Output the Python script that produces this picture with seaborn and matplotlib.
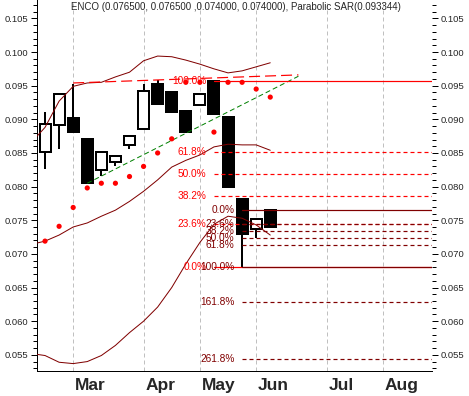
import numpy as np
import pandas as pd
import matplotlib
matplotlib.use("Agg")
import matplotlib.pyplot as plt
from matplotlib.ticker import MultipleLocator, FormatStrFormatter
import seaborn as sns

# weekly bars, x = week number (0 = first bar on the chart)
weeks = list(range(17))
opens = [0.0851, 0.0892, 0.0902, 0.0871, 0.0825, 0.0837, 0.0862, 0.0886, 0.0952,
         0.0941, 0.0912, 0.0921, 0.0957, 0.0903, 0.0782, 0.0737, 0.0765]
highs = [0.0911, 0.0938, 0.0952, 0.0871, 0.0851, 0.0846, 0.0875, 0.0952, 0.0958,
         0.0941, 0.0912, 0.0938, 0.0957, 0.0903, 0.0782, 0.0752, 0.0765]
lows = [0.0826, 0.0856, 0.0881, 0.0805, 0.0816, 0.0831, 0.0856, 0.0886, 0.0921,
        0.0911, 0.0881, 0.0921, 0.0906, 0.0799, 0.0680, 0.0724, 0.0740]
closes = [0.0893, 0.0938, 0.0881, 0.0805, 0.0851, 0.0846, 0.0875, 0.0942, 0.0923,
          0.0911, 0.0881, 0.0938, 0.0908, 0.0800, 0.0730, 0.0752, 0.0740]

# parabolic SAR dots
sar = [0.0719, 0.0741, 0.0769, 0.0798, 0.0805, 0.0805, 0.0815, 0.0830, 0.0850,
       0.0871, 0.0955, 0.0955, 0.0881, 0.0955, 0.0955, 0.0945, 0.0933]

# bollinger bands
band_weeks = list(range(-1, 17))
band_upper = [0.0865, 0.0888, 0.0927, 0.0949, 0.0954, 0.0955, 0.0963, 0.0970, 0.0987,
              0.0994, 0.0993, 0.0988, 0.0982, 0.0975, 0.0969, 0.0972, 0.0978, 0.0984]
band_mid = [0.0714, 0.0719, 0.0728, 0.0740, 0.0746, 0.0756, 0.0765, 0.0778, 0.0793,
            0.0810, 0.0829, 0.0839, 0.0847, 0.0859, 0.0863, 0.0862, 0.0862, 0.0854]
band_low = [0.0552, 0.0549, 0.0539, 0.0537, 0.0540, 0.0549, 0.0564, 0.0583, 0.0600,
            0.0621, 0.0650, 0.0685, 0.0717, 0.0744, 0.0756, 0.0753, 0.0743, 0.0728]

# trend lines (week, price)
green_line = ([3, 18], [0.0805, 0.0964])
red_line = ([2, 18], [0.0954, 0.0966])

# fibonacci retracements
fib1_start = 12
fib1_labels = ["100.0%", "61.8%", "50.0%", "38.2%", "23.6%", "0.0%"]
fib1_levels = [0.0957, 0.0851, 0.0818, 0.0786, 0.0745, 0.0680]
fib2_start = 14
fib2_labels = ["0.0%", "23.6%", "38.2%", "50.0%", "61.8%", "100.0%", "161.8%", "261.8%"]
fib2_levels = [0.0765, 0.0745, 0.0734, 0.0724, 0.0713, 0.0680, 0.0629, 0.0544]

months = ["Mar", "Apr", "May", "Jun", "Jul", "Aug"]
month_weeks = [2, 7, 11, 15, 20, 24]

title = "ENCO (0.076500, 0.076500 ,0.074000, 0.074000), Parabolic SAR(0.093344)"

sns.set_style("white")
plt.rcParams['font.family'] = ['Liberation Sans', 'DejaVu Sans']
plt.rcParams['lines.scale_dashes'] = False

RED = "#ff0000"
DARK = "#800000"
px = 0.72  # one pixel in points at dpi 100

fig = plt.figure(figsize=(4.69, 3.96), dpi=100)
ax = fig.add_axes([37 / 469, 25 / 396, 395 / 469, 371 / 396])
ax.set_xlim(-0.57, 27.49)
ax.set_ylim(0.0526, 0.10773)

# month grid
ax.grid(False)
for w in month_weeks:
    ax.axvline(w, color="#c0c0c0", lw=1 * px, ls=(0, (4 * px, 3 * px)), zorder=0)

# candles
for x, o, h, l, c in zip(weeks, opens, highs, lows, closes):
    ax.vlines(x, l, h, color="black", lw=2 * px, zorder=2)
    up = c >= o
    ax.bar(x, abs(c - o), bottom=min(o, c), width=0.78,
           color="white" if up else "black", edgecolor="black",
           linewidth=2 * px, zorder=3)

bands = pd.DataFrame({"week": band_weeks, "upper": band_upper,
                      "mid": band_mid, "low": band_low})
for col in ["upper", "mid", "low"]:
    sns.lineplot(data=bands, x="week", y=col, color=DARK, lw=1 * px, ax=ax, zorder=4)

# trend lines
ax.plot(*green_line, color="#008000", lw=1 * px, ls=(0, (5 * px, 3 * px)), zorder=4)
ax.plot(*red_line, color=RED, lw=1.2 * px, ls=(0, (11 * px, 5 * px)), zorder=4)

# fibonacci levels
def fib_set(start, labels, levels, color, solid):
    for lab, lev in zip(labels, levels):
        ls = "-" if lab in solid else (0, (4 * px, 3 * px))
        ax.plot([start, 27.49], [lev, lev], color=color, lw=1.2 * px, ls=ls, zorder=4)
        ax.annotate(lab, xy=(start, lev), xytext=(-5.5, 0), textcoords="offset points",
                    ha="right", va="center", color=color, fontsize=7.3, zorder=6)

fib_set(fib1_start, fib1_labels, fib1_levels, RED, ["100.0%", "0.0%"])
fib_set(fib2_start, fib2_labels, fib2_levels, DARK, ["100.0%", "0.0%"])

# SAR dots
sns.scatterplot(x=weeks, y=sar, color=RED, s=14, marker="o", edgecolor="none",
                ax=ax, zorder=5)

ax.set_xlabel("")
ax.set_ylabel("")

# axes and ticks
for s in ["top", "right"]:
    ax.spines[s].set_visible(False)
for s in ["left", "bottom"]:
    ax.spines[s].set_color("black")
    ax.spines[s].set_linewidth(1 * px)

ax.set_xticks(month_weeks)
ax.set_xticks(range(0, 28), minor=True)
ax.tick_params(axis="x", which="major", length=18, width=1 * px, color="black",
               labelbottom=False, direction="out")
ax.tick_params(axis="x", which="minor", length=4, width=1 * px, color="black",
               direction="out")
ax.yaxis.set_major_locator(MultipleLocator(0.005))
ax.yaxis.set_minor_locator(MultipleLocator(0.001))
ax.yaxis.set_major_formatter(FormatStrFormatter("%.3f"))
ax.tick_params(axis="y", which="both", left=True, right=True, labelleft=True,
               labelright=True, labelsize=6.8, color="black", width=1 * px,
               direction="out", pad=2)
ax.tick_params(axis="y", which="major", length=4.3)
ax.tick_params(axis="y", which="minor", length=2.9)

for m, w in zip(months, month_weeks):
    ax.annotate(m, xy=(w, 0), xycoords=("data", "axes fraction"), xytext=(1.2, -5),
                textcoords="offset points", ha="left", va="top", fontsize=12.5,
                fontweight="bold", annotation_clip=False)

fig.text(0.503, 1 - 7 / 396, title, ha="center", va="center", fontsize=7)

fig.savefig("out.png", dpi=100)
